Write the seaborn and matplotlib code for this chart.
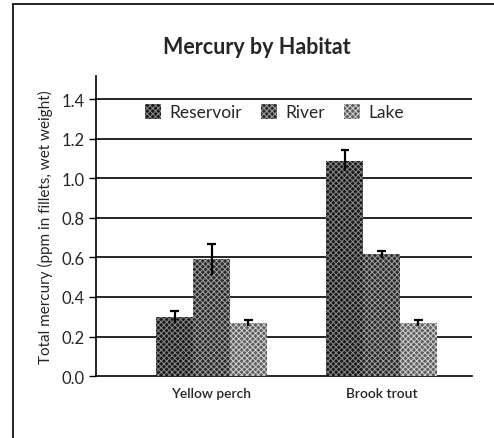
import numpy as np
import pandas as pd
import seaborn as sns
import matplotlib.pyplot as plt
from matplotlib.lines import Line2D

species = ["Yellow perch", "Brook trout"]
habitats = ["Reservoir", "River", "Lake"]
mercury = {
    "Reservoir": [0.30, 1.09],
    "River": [0.59, 0.615],
    "Lake": [0.27, 0.27],
}
errors = {
    "Reservoir": [0.03, 0.055],
    "River": [0.08, 0.02],
    "Lake": [0.015, 0.015],
}
yticks = [0.0, 0.2, 0.4, 0.6, 0.8, 1.0, 1.2, 1.4]

rows = []
for h in habitats:
    for s, v, e in zip(species, mercury[h], errors[h]):
        rows.append((s, h, v, e))
df = pd.DataFrame(rows, columns=["species", "habitat", "mercury", "err"])

sns.set_style("white")
plt.rcParams['font.family'] = ['Lato', 'DejaVu Sans']
plt.rcParams['hatch.linewidth'] = 0.7

fig = plt.figure(figsize=(4.94, 4.39), dpi=100)
ax = fig.add_axes([0.194, 0.141, 0.761, 0.683])

face = {"Reservoir": "#1a1a1a", "River": "#2a2a2a", "Lake": "#5e5e5e"}
hatch_col = {"Reservoir": "#8a8a8a", "River": "#a0a0a0", "Lake": "#d0d0d0"}
pattern = "xxxxxx"

sns.barplot(data=df, x="species", y="mercury", hue="habitat", order=species,
            hue_order=habitats, palette=face, width=0.65, gap=0,
            errorbar=None, saturation=1, ax=ax, zorder=3, legend=False)

# patches are in hue order then category order
for i, p in enumerate(ax.patches[:len(df)]):
    h = habitats[i // len(species)]
    p.set_hatch(pattern)
    p.set_edgecolor(hatch_col[h])
    p.set_linewidth(0)

for i, p in enumerate(ax.patches[:len(df)]):
    h = habitats[i // len(species)]
    s = i % len(species)
    xc = p.get_x() + p.get_width() / 2
    top = p.get_height()
    e = errors[h][s]
    ax.vlines(xc, top - e, top + e, color="black", lw=1.6, zorder=5)
    ax.hlines(top + e, xc - 0.025, xc + 0.025, color="black", lw=1.6, zorder=5)

ax.set_ylim(0, 1.516)
ax.set_xlim(-0.68, 1.53)
ax.set_yticks(yticks)
ax.set_yticklabels([f"{t:.1f}" for t in yticks], fontsize=12)
for t in yticks[1:]:
    ax.axhline(t, color="black", lw=1.2, zorder=1)

ax.set_xlabel("")
ax.set_ylabel("Total mercury (ppm in fillets, wet weight)", fontsize=11, labelpad=6)
ax.tick_params(axis="x", length=0, labelsize=10, pad=8)
ax.tick_params(axis="y", left=True, length=5, width=1, color="black", pad=3)
for lab in ax.get_xticklabels():
    lab.set_fontweight("semibold")
sns.despine(ax=ax)
ax.spines["left"].set_color("black")
ax.spines["bottom"].set_color("black")
ax.spines["left"].set_linewidth(1.2)
ax.spines["bottom"].set_linewidth(1.2)

handles = [plt.Rectangle((0, 0), 1, 1, facecolor=face[h], edgecolor=hatch_col[h],
                         hatch=pattern, linewidth=0) for h in habitats]
ax.legend(handles, habitats, ncol=3, frameon=False, loc="center left",
          bbox_to_anchor=(0.09, 0.88), fontsize=12.5, handlelength=0.9,
          handleheight=0.9, handletextpad=0.5, columnspacing=1.1)

fig.suptitle("Mercury by Habitat", x=0.52, y=0.915, fontsize=15.5, fontweight="bold")

# frame lines on the left and top of the figure
fig.add_artist(Line2D([0.026, 0.026], [0.0, 0.989], color="black", lw=1.2,
                      transform=fig.transFigure))
fig.add_artist(Line2D([0.026, 1.0], [0.989, 0.989], color="black", lw=1.2,
                      transform=fig.transFigure))

fig.savefig("out.png", dpi=100)
